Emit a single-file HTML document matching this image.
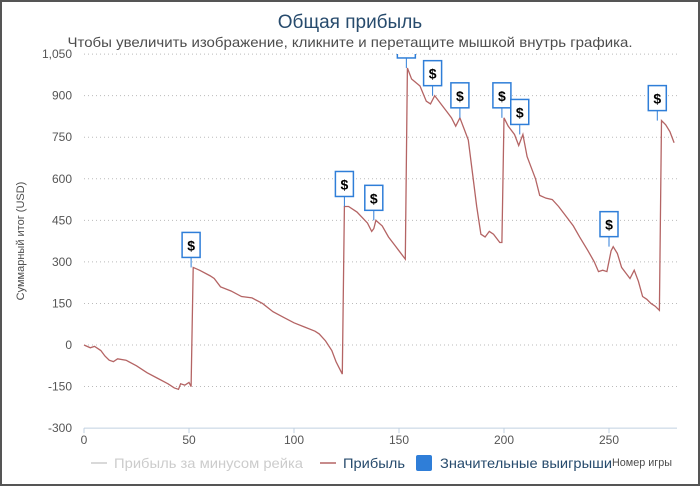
<!DOCTYPE html>
<html><head><meta charset="utf-8"><style>
html,body{margin:0;padding:0;background:#fff}
svg{display:block;font-family:"Liberation Sans","DejaVu Sans",sans-serif}
</style></head><body>
<svg id="chart" width="700" height="486" viewBox="0 0 700 486">
<defs><clipPath id="plotclip"><rect x="60" y="54" width="630" height="380"/></clipPath></defs>
<rect x="1" y="1" width="698" height="484" fill="#fff" stroke="#555" stroke-width="2"/>
<text x="350" y="28" text-anchor="middle" font-size="19" fill="#274b6d">Общая прибыль</text>
<text x="350" y="47" text-anchor="middle" font-size="14" textLength="565" lengthAdjust="spacingAndGlyphs" fill="#4d4d4d">Чтобы увеличить изображение, кликните и перетащите мышкой внутрь графика.</text>
<text transform="translate(24,241) rotate(-90)" text-anchor="middle" font-size="11" fill="#4d4d4d">Суммарный итог (USD)</text>
<g id="grid"></g><g id="series" clip-path="url(#plotclip)"></g><g id="markers" clip-path="url(#plotclip)"></g>
<text x="612" y="466" font-size="11" textLength="60" lengthAdjust="spacingAndGlyphs" fill="#4d4d4d">Номер игры</text>
<g>
<g><line x1="91" y1="463" x2="107" y2="463" stroke="#ccc" stroke-width="1.5"/><text x="114" y="468" font-size="14" textLength="189" lengthAdjust="spacingAndGlyphs" fill="#ccc">Прибыль за минусом рейка</text></g>
<g><line x1="320" y1="463" x2="336" y2="463" stroke="#b46464" stroke-width="1.5"/><text x="343" y="468" font-size="14" textLength="62" lengthAdjust="spacingAndGlyphs" fill="#274b6d">Прибыль</text></g>
<g><rect x="416" y="455" width="16" height="16" rx="2" fill="#2f7ed8"/><text x="440" y="468" font-size="14" textLength="172" lengthAdjust="spacingAndGlyphs" fill="#274b6d">Значительные выигрыши</text></g>
</g>
</svg>
<script>
const yTicks=[-300,-150,0,150,300,450,600,750,900,1050];
const yTickLabels=["-300","-150","0","150","300","450","600","750","900","1,050"];
const xTicks=[0,50,100,150,200,250];
const games=[0,3,5,8,10,12,14,16,20,25,30,35,40,43,45,46,48,50,51,52,55,60,62,65,70,75,80,85,90,95,100,105,110,112,115,118,120,122,123,124,126,130,135,137,138,139,142,145,148,150,152,153,154,156,160,163,165,167,170,173,175,177,179,181,183,185,187,189,191,193,195,198,199,200,202,205,207,209,211,213,215,217,220,223,226,229,233,236,240,243,245,247,249,251,252,254,256,258,260,262,264,266,268,270,272,274,275,277,279,281];
const profit=[0,-10,-5,-20,-40,-55,-60,-50,-55,-75,-100,-120,-140,-155,-160,-140,-145,-135,-150,280,270,250,240,210,195,175,170,150,120,100,80,65,50,40,15,-20,-60,-90,-105,500,500,480,440,410,420,450,430,390,360,340,320,310,1000,960,935,880,870,900,870,840,820,790,820,780,740,620,500,400,390,410,400,370,370,820,790,760,720,760,680,640,600,540,530,525,500,470,430,390,340,300,265,270,265,340,355,330,280,260,240,270,230,175,165,150,140,125,810,795,770,730];
const bigWinGames=[51,124,138,153.5,166,179,199,207.5,250,273];
const bigWinValues=[280,500,450,1000,900,820,820,760,355,810];
const X=g=>84+g*2.1;
const Y=v=>345-v*(374/1350);
const ns="http://www.w3.org/2000/svg";
function mk(t,a,p){const e=document.createElementNS(ns,t);for(const k in a)e.setAttribute(k,a[k]);p.appendChild(e);return e;}
const grid=document.getElementById('grid');
yTicks.forEach((v,i)=>{
 if(v!==-300){const l=mk('line',{x1:84,x2:677,y1:Y(v),y2:Y(v),stroke:'#bbb','stroke-dasharray':'1,3'},grid);
 
 }
 const t=mk('text',{x:72,y:Y(v)+4,'text-anchor':'end','font-size':12,fill:'#555'},grid);t.textContent=yTickLabels[i];
 
 
});
const ax=mk('line',{x1:84,x2:677,y1:Y(-300),y2:Y(-300),stroke:'#c0d0e0','stroke-width':1},grid);


xTicks.forEach(g=>{
 mk('line',{x1:X(g),x2:X(g),y1:Y(-300),y2:Y(-300)+5,stroke:'#c0d0e0'},grid);
 const t=mk('text',{x:X(g),y:Y(-300)+16,'text-anchor':'middle','font-size':12,fill:'#555'},grid);t.textContent=g;
 
 
});
const s=document.getElementById('series');
const path=mk('polyline',{points:games.map((g,i)=>X(g)+','+Y(profit[i])).join(' '),fill:'none',stroke:'#b46464','stroke-width':1.3},s);


const m=document.getElementById('markers');
bigWinGames.forEach((g,i)=>{
 const x=X(g),y=Y(bigWinValues[i]);
 const grp=mk('g',{},m);
 
 
 mk('line',{x1:x,x2:x,y1:y,y2:y-10,stroke:'#2f7ed8'},grp);
 mk('rect',{x:x-9,y:y-35,width:18,height:25,fill:'#fff',stroke:'#2f7ed8','stroke-width':1.5},grp);
 const t=mk('text',{x:x,y:y-17,'text-anchor':'middle','font-size':14,'font-weight':'bold',fill:'#000'},grp);t.textContent='$';
});
</script>
</body></html>
